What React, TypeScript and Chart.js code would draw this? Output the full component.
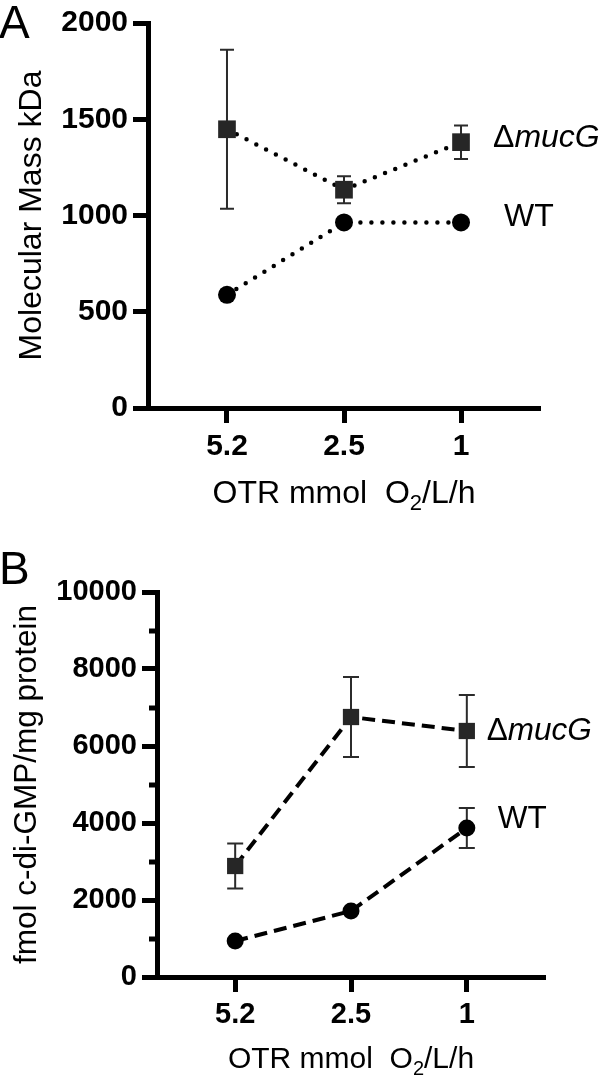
import React, { useEffect, useRef } from 'react';
import { Chart, registerables } from 'chart.js';

Chart.register(...registerables);

// ---------- data ----------
const categories = ['5.2', '2.5', '1'];

// Panel A: Molecular mass (kDa)
const massMucG = [1448, 1134, 1381];
const massMucGErr = [413, 70, 87];
const massWT = [588, 964, 964];
const massWTErr = [0, 0, 0];
const massTickStep = 500;
const massMax = 2000;

// Panel B: fmol c-di-GMP / mg protein
const cdgMucG = [2883, 6753, 6390];
const cdgMucGErr = [585, 1040, 935];
const cdgWT = [935, 1714, 3870];
const cdgWTErr = [0, 0, 520];
const cdgTickStep = 1000;
const cdgLabelStep = 2000;
const cdgMax = 10000;

const seriesNames = ['mucG', 'WT'];

const FONT = '"Liberation Sans", Arial, Helvetica, sans-serif';

type PanelCfg = {
  letter: string;
  letterSize: number;
  letterBaseline: number;
  height: number;
  top: number;
  left: number;
  right: number;
  bottom: number;
  yMax: number;
  yStep: number;
  yLabelStep: number;
  yTitle: string;
  yTitleSize: number;
  yTitlePad: number;
  tickSize: number;
  yTickPad: number;
  xTickPad: number;
  xTitleSize: number;
  xTitleBaseline: number;
  mucG: number[];
  mucGErr: number[];
  wt: number[];
  wtErr: number[];
  dash: number[];
  cap: 'round' | 'butt';
  lineWidth: number;
  sqR: number;
  circR: number;
  errCap: number;
  labelSize: number;
  labelOffsets: { dx: number; dy: number }[];
  minorTicks: boolean;
};

function makePlugin(cfg: PanelCfg) {
  return {
    id: 'panelDecor',
    beforeDatasetsDraw(chart: any) {
      const ctx = chart.ctx;
      const ys = chart.scales.y;
      const errs = [cfg.mucGErr, cfg.wtErr];
      const vals = [cfg.mucG, cfg.wt];
      ctx.save();
      ctx.strokeStyle = '#2b2b2b';
      ctx.lineWidth = 2;
      ctx.lineCap = 'butt';
      errs.forEach((err, d) => {
        const meta = chart.getDatasetMeta(d);
        err.forEach((e, i) => {
          if (!e) return;
          const x = meta.data[i].x;
          const yT = ys.getPixelForValue(vals[d][i] + e);
          const yB = ys.getPixelForValue(vals[d][i] - e);
          ctx.beginPath();
          ctx.moveTo(x, yT);
          ctx.lineTo(x, yB);
          ctx.moveTo(x - cfg.errCap, yT);
          ctx.lineTo(x + cfg.errCap, yT);
          ctx.moveTo(x - cfg.errCap, yB);
          ctx.lineTo(x + cfg.errCap, yB);
          ctx.stroke();
        });
      });
      ctx.restore();
    },
    afterDraw(chart: any) {
      const ctx = chart.ctx;
      const area = chart.chartArea;
      ctx.save();
      ctx.fillStyle = '#000';
      // panel letter
      ctx.font = `${cfg.letterSize}px ${FONT}`;
      ctx.textAlign = 'left';
      ctx.textBaseline = 'alphabetic';
      ctx.fillText(cfg.letter, -1, cfg.letterBaseline);

      // minor ticks
      if (cfg.minorTicks) {
        const ys = chart.scales.y;
        ctx.strokeStyle = '#000';
        ctx.lineWidth = 5;
        for (let v = cfg.yStep; v < cfg.yMax; v += cfg.yStep) {
          if (v % cfg.yLabelStep === 0) continue;
          const y = Math.round(ys.getPixelForValue(v));
          ctx.beginPath();
          ctx.moveTo(area.left - 8, y);
          ctx.lineTo(area.left, y);
          ctx.stroke();
        }
      }

      // series labels
      ctx.textBaseline = 'middle';
      seriesNames.forEach((name, d) => {
        const meta = chart.getDatasetMeta(d);
        const pt = meta.data[meta.data.length - 1];
        const off = cfg.labelOffsets[d];
        let x = pt.x + off.dx;
        const y = pt.y + off.dy;
        if (name === 'mucG') {
          ctx.font = `${cfg.labelSize}px ${FONT}`;
          ctx.fillText('\u0394', x, y);
          x += ctx.measureText('\u0394').width;
          ctx.font = `italic ${cfg.labelSize}px ${FONT}`;
          ctx.fillText('mucG', x, y);
        } else {
          ctx.font = `${cfg.labelSize}px ${FONT}`;
          ctx.fillText(name, x, y);
        }
      });

      // x axis title with subscript
      const main = `${cfg.xTitleSize}px ${FONT}`;
      const sub = `${Math.round(cfg.xTitleSize * 0.68)}px ${FONT}`;
      const parts = [
        { t: 'OTR mmol  O', f: main, dy: 0 },
        { t: '2', f: sub, dy: Math.round(cfg.xTitleSize * 0.22) },
        { t: '/L/h', f: main, dy: 0 },
      ];
      let total = 0;
      const widths = parts.map((p) => {
        ctx.font = p.f;
        const w = ctx.measureText(p.t).width;
        total += w;
        return w;
      });
      let x = (area.left + area.right) / 2 - total / 2;
      ctx.textBaseline = 'alphabetic';
      parts.forEach((p, i) => {
        ctx.font = p.f;
        ctx.fillText(p.t, x, cfg.xTitleBaseline + p.dy);
        x += widths[i];
      });
      ctx.restore();
    },
  };
}

function buildChart(canvas: HTMLCanvasElement, cfg: PanelCfg) {
  return new Chart(canvas, {
    type: 'line',
    data: {
      datasets: [
        {
          label: '\u0394mucG',
          data: cfg.mucG.map((v, i) => ({ x: i, y: v })),
          borderColor: '#000',
          borderWidth: cfg.lineWidth,
          borderDash: cfg.dash,
          borderCapStyle: cfg.cap,
          pointStyle: 'rect',
          pointRadius: cfg.sqR,
          pointBackgroundColor: '#262626',
          pointBorderColor: '#262626',
          pointBorderWidth: 0,
          tension: 0,
        },
        {
          label: 'WT',
          data: cfg.wt.map((v, i) => ({ x: i, y: v })),
          borderColor: '#000',
          borderWidth: cfg.lineWidth,
          borderDash: cfg.dash,
          borderCapStyle: cfg.cap,
          pointStyle: 'circle',
          pointRadius: cfg.circR,
          pointBackgroundColor: '#000',
          pointBorderColor: '#000',
          pointBorderWidth: 0,
          tension: 0,
        },
      ],
    },
    options: {
      responsive: false,
      animation: false,
      events: [],
      layout: { padding: { top: cfg.top, right: 600 - cfg.right, bottom: 0, left: 0 } },
      plugins: { legend: { display: false }, tooltip: { enabled: false } },
      scales: {
        x: {
          type: 'linear',
          min: -0.675,
          max: categories.length - 1 + 0.675,
          afterBuildTicks: (s: any) => {
            s.ticks = categories.map((_, i) => ({ value: i }));
          },
          afterFit: (s: any) => {
            s.height = cfg.height - cfg.bottom;
          },
          ticks: {
            autoSkip: false,
            maxRotation: 0,
            padding: cfg.xTickPad,
            color: '#000',
            font: { family: FONT, size: cfg.tickSize, weight: 'bold' },
            callback: (v: any) => categories[v] ?? '',
          },
          grid: {
            display: true,
            drawOnChartArea: false,
            tickLength: 15,
            tickWidth: 5,
            tickColor: '#000',
          },
          border: { display: true, width: 5, color: '#000' },
        },
        y: {
          min: 0,
          max: cfg.yMax,
          afterFit: (s: any) => {
            s.width = cfg.left;
          },
          ticks: {
            stepSize: cfg.yStep,
            padding: cfg.yTickPad,
            color: '#000',
            font: { family: FONT, size: cfg.tickSize, weight: 'bold' },
            callback: (v: any) => (v % cfg.yLabelStep === 0 ? String(v) : ''),
          },
          grid: {
            display: true,
            drawOnChartArea: false,
            tickLength: 15,
            tickWidth: 5,
            tickColor: (c: any) =>
              c.tick && c.tick.value % cfg.yLabelStep === 0 ? '#000' : 'rgba(0,0,0,0)',
          },
          border: { display: true, width: 5, color: '#000' },
          title: {
            display: true,
            text: cfg.yTitle,
            color: '#000',
            font: { family: FONT, size: cfg.yTitleSize, lineHeight: 1 },
            padding: { top: cfg.yTitlePad, bottom: 0 },
          },
        },
      },
    },
    plugins: [makePlugin(cfg)],
  } as any);
}

const panelA: PanelCfg = {
  letter: 'A',
  letterSize: 46,
  letterBaseline: 38,
  height: 545,
  top: 20,
  left: 148,
  right: 540,
  bottom: 408,
  yMax: massMax,
  yStep: massTickStep,
  yLabelStep: massTickStep,
  yTitle: 'Molecular Mass kDa',
  yTitleSize: 32,
  yTitlePad: 16,
  tickSize: 30,
  yTickPad: 5,
  xTickPad: 6,
  xTitleSize: 32,
  xTitleBaseline: 503,
  mucG: massMucG,
  mucGErr: massMucGErr,
  wt: massWT,
  wtErr: massWTErr,
  dash: [0, 11],
  cap: 'round',
  lineWidth: 4.5,
  sqR: 12.5,
  circR: 9,
  errCap: 7,
  labelSize: 32,
  labelOffsets: [
    { dx: 32, dy: -4 },
    { dx: 43, dy: -5 },
  ],
  minorTicks: false,
};

const panelB: PanelCfg = {
  letter: 'B',
  letterSize: 46,
  letterBaseline: 39,
  height: 540,
  top: 47,
  left: 157,
  right: 545,
  bottom: 432,
  yMax: cdgMax,
  yStep: cdgTickStep,
  yLabelStep: cdgLabelStep,
  yTitle: 'fmol c-di-GMP/mg protein',
  yTitleSize: 31.5,
  yTitlePad: 12,
  tickSize: 29,
  yTickPad: 5,
  xTickPad: 6,
  xTitleSize: 30,
  xTitleBaseline: 523,
  mucG: cdgMucG,
  mucGErr: cdgMucGErr,
  wt: cdgWT,
  wtErr: cdgWTErr,
  dash: [13, 7],
  cap: 'butt',
  lineWidth: 4,
  sqR: 11.5,
  circR: 8.5,
  errCap: 8,
  labelSize: 31.5,
  labelOffsets: [
    { dx: 20, dy: 0 },
    { dx: 31, dy: -9 },
  ],
  minorTicks: true,
};

function Panel({ cfg, top }: { cfg: PanelCfg; top: number }) {
  const ref = useRef<HTMLCanvasElement | null>(null);
  useEffect(() => {
    if (!ref.current) return;
    const chart = buildChart(ref.current, cfg);
    return () => chart.destroy();
  }, [cfg]);
  return (
    <canvas
      ref={ref}
      width={600}
      height={cfg.height}
      style={{ position: 'absolute', left: 0, top, width: 600, height: cfg.height, display: 'block' }}
    />
  );
}

export default function App() {
  return (
    <div style={{ position: 'absolute', left: 0, top: 0, width: 600, height: 1085, background: '#fff' }}>
      <Panel cfg={panelA} top={0} />
      <Panel cfg={panelB} top={545} />
    </div>
  );
}
